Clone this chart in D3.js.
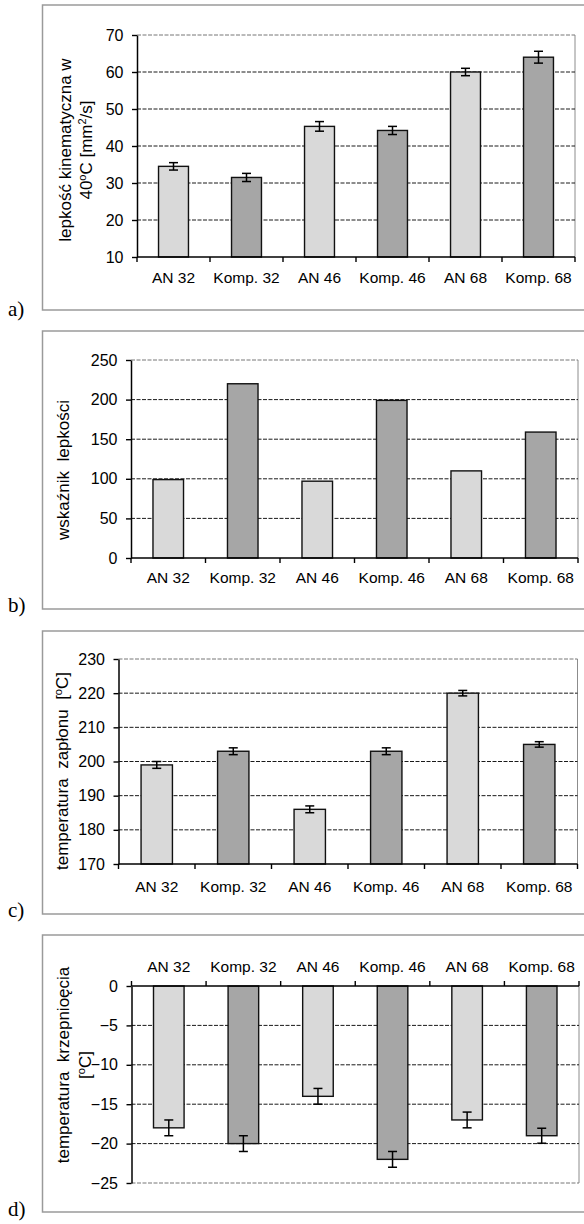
<!DOCTYPE html>
<html>
<head>
<meta charset="utf-8">
<script src="https://cdn.jsdelivr.net/npm/d3@7"></script>
<style>
  body { margin: 0; background: #fff; }
  svg { display: block; font-family: "Liberation Sans", Arial, sans-serif; }
  .letter { font-family: "Liberation Serif", "Times New Roman", serif; font-size: 21px; }
</style>
</head>
<body>
<div id="container"></div>
<script>
/** DATA */
const categories = ["AN 32", "Komp. 32", "AN 46", "Komp. 46", "AN 68", "Komp. 68"];

// a) kinematic viscosity at 40 C
const viscosity40 = [34.5, 31.5, 45.3, 44.2, 60, 64];
const viscosity40Err = [1, 1.1, 1.3, 1.1, 1, 1.6];
// b) viscosity index (no error bars)
const viscosityIndex = [99, 220, 97, 199, 110, 159];
// c) flash point
const flashPoint = [199, 203, 186, 203, 220, 205];
const flashPointErr = [1, 1, 1, 1, 0.8, 0.8];
// d) pour point
const pourPoint = [-18, -20, -14, -22, -17, -19];
const pourPointErr = [1, 1, 1, 1, 1, 0.95];

const ticksA = [10, 20, 30, 40, 50, 60, 70];
const ticksB = [0, 50, 100, 150, 200, 250];
const ticksC = [170, 180, 190, 200, 210, 220, 230];
const ticksD = [0, -5, -10, -15, -20, -25];

/** CONSTANTS */
const width = 584, height = 1224;
const lightFill = "#d9d9d9", darkFill = "#a6a6a6";

const svg = d3.select("#container")
  .append("svg")
  .attr("width", width)
  .attr("height", height);

// panels, positions
const panels = [
  {
    letter: "a)", letterY: 316, box: [5, 310],
    plot: { left: 137, right: 575, top: 35, bottom: 257 },
    ticks: ticksA, values: viscosity40, errors: viscosity40Err,
    titleX: [65, 86.5], titleY: 150, labelDy: 26,
    title: [
      [["lepkość kinematyczna w"]],
      [["40"], ["o", "sup"], ["C [mm"], ["2", "sup"], ["/s]"]]
    ]
  },
  {
    letter: "b)", letterY: 612, box: [331, 609],
    plot: { left: 131, right: 578, top: 360, bottom: 558 },
    ticks: ticksB, values: viscosityIndex, errors: null,
    titleX: [63], titleY: 470, labelDy: 25,
    title: [[["wskaźnik  lepkości"]]]
  },
  {
    letter: "c)", letterY: 917, box: [631, 914],
    plot: { left: 118.5, right: 577.5, top: 659, bottom: 864 },
    ticks: ticksC, values: flashPoint, errors: flashPointErr,
    titleX: [62], titleY: 771, labelDy: 28,
    title: [[["temperatura  zapłonu  ["], ["o", "sup"], ["C]"]]]
  },
  {
    letter: "d)", letterY: 1216, box: [935, 1212],
    plot: { left: 131.5, right: 579, top: 986, bottom: 1183 },
    ticks: ticksD, values: pourPoint, errors: pourPointErr, negative: true,
    titleX: [63, 85], titleY: 1065, labelDy: -14,
    title: [
      [["temperatura  krzepnioęcia"]],
      [["["], ["o", "sup"], ["C]"]]
    ]
  }
];

panels.forEach(drawPanel);

function drawPanel(p) {
  const g = svg.append("g");
  const pl = p.plot;

  // outer frame (runs past the right edge of the page)
  g.append("rect")
    .attr("x", 42.5).attr("y", p.box[0])
    .attr("width", 560).attr("height", p.box[1] - p.box[0])
    .attr("fill", "none").attr("stroke", "#9a9a9a").attr("stroke-width", 1.5);

  g.append("text").attr("class", "letter")
    .attr("x", 8).attr("y", p.letterY).text(p.letter);

  const x = d3.scaleBand()
    .domain(categories)
    .range([pl.left, pl.right])
    .paddingInner(0.59)
    .paddingOuter(0.295);

  const ext = d3.extent(p.ticks);
  const y = d3.scaleLinear()
    .domain(p.negative ? [ext[0], 0] : ext)
    .range([pl.bottom, pl.top]);

  const base = p.negative ? 0 : ext[0];
  const edge = p.negative ? ext[0] : ext[1];

  // right border of plot area
  g.append("line")
    .attr("x1", pl.right).attr("x2", pl.right)
    .attr("y1", pl.top).attr("y2", pl.bottom)
    .attr("stroke", "#8c8c8c").attr("stroke-width", 1);

  // gridlines
  g.selectAll(".grid")
    .data(p.ticks.filter(t => t !== base))
    .join("line")
    .attr("x1", pl.left).attr("x2", pl.right)
    .attr("y1", d => y(d)).attr("y2", d => y(d))
    .attr("stroke", d => d === edge ? "#777" : "#1a1a1a")
    .attr("stroke-width", 1)
    .attr("stroke-dasharray", "4,1.5");

  // bars
  g.selectAll(".bar")
    .data(p.values)
    .join("rect")
    .attr("x", (d, i) => x(categories[i]))
    .attr("width", x.bandwidth())
    .attr("y", d => Math.min(y(d), y(base)))
    .attr("height", d => Math.abs(y(d) - y(base)))
    .attr("fill", (d, i) => i % 2 === 0 ? lightFill : darkFill)
    .attr("stroke", "#111")
    .attr("stroke-width", 1.4);

  // error bars
  if (p.errors) {
    const eb = g.selectAll(".err")
      .data(p.values.map((v, i) => ({ v, e: p.errors[i], c: categories[i] })))
      .join("g")
      .attr("transform", d => `translate(${x(d.c) + x.bandwidth() / 2},0)`)
      .attr("stroke", "#000").attr("stroke-width", 1.5);
    eb.append("line").attr("y1", d => y(d.v - d.e)).attr("y2", d => y(d.v + d.e));
    eb.append("line").attr("x1", -4.5).attr("x2", 4.5)
      .attr("y1", d => y(d.v - d.e)).attr("y2", d => y(d.v - d.e));
    eb.append("line").attr("x1", -4.5).attr("x2", 4.5)
      .attr("y1", d => y(d.v + d.e)).attr("y2", d => y(d.v + d.e));
  }

  // y axis
  const yAxis = g.append("g")
    .attr("transform", `translate(${pl.left},0)`)
    .call(d3.axisLeft(y).tickValues(p.ticks).tickSize(5).tickSizeOuter(0).tickPadding(8.5));
  yAxis.select(".domain").attr("stroke", "#000").attr("stroke-width", 1.5);
  yAxis.selectAll(".tick line").attr("stroke", "#000").attr("stroke-width", 1.4);
  yAxis.selectAll(".tick text")
    .attr("font-size", 16).attr("fill", "#000")
    .attr("font-family", "Liberation Sans, Arial, sans-serif");

  // category axis
  const ay = y(base);
  g.append("line")
    .attr("x1", pl.left).attr("x2", pl.right)
    .attr("y1", ay).attr("y2", ay)
    .attr("stroke", "#000").attr("stroke-width", 1.5);
  const tickDir = p.negative ? -5 : 5;
  g.selectAll(".xtick")
    .data(d3.range(categories.length + 1))
    .join("line")
    .attr("x1", i => pl.left + i * x.step())
    .attr("x2", i => pl.left + i * x.step())
    .attr("y1", ay).attr("y2", ay + tickDir)
    .attr("stroke", "#000").attr("stroke-width", 1.4);
  g.selectAll(".xlab")
    .data(categories)
    .join("text")
    .attr("x", d => x(d) + x.bandwidth() / 2)
    .attr("y", ay + p.labelDy)
    .attr("text-anchor", "middle")
    .attr("font-size", 15.5)
    .attr("fill", "#000")
    .text(d => d);

  // y title (rotated, one or two lines)
  p.title.forEach((line, li) => {
    const t = g.append("text")
      .attr("transform", `translate(${p.titleX[li]},${p.titleY}) rotate(-90)`)
      .attr("text-anchor", "middle")
      .attr("dy", "0.35em")
      .attr("font-size", 17)
      .attr("fill", "#000")
      .style("white-space", "pre");
    line.forEach(part => {
      const s = t.append("tspan").text(part[0]);
      if (part[1] === "sup") s.attr("baseline-shift", "super").attr("font-size", 11);
    });
  });
}
</script>
</body>
</html>
